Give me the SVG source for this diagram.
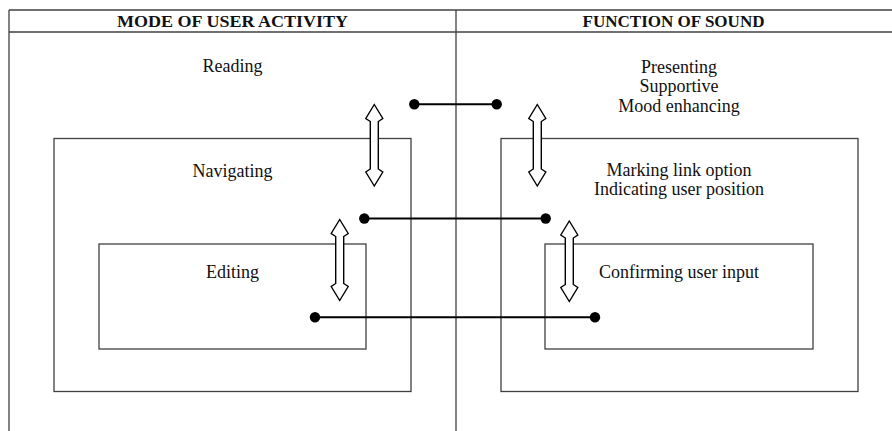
<svg xmlns="http://www.w3.org/2000/svg" width="892" height="431" viewBox="0 0 892 431">
  <defs>
    <style>
      .rule { stroke: #404040; stroke-width: 1.3; fill: none; }
      .box { stroke: #404040; stroke-width: 1.3; fill: none; }
      .label { font-family: "Liberation Serif", "Times New Roman", serif; font-size: 18px; fill: #111; text-anchor: middle; }
      .head { font-family: "Liberation Serif", "Times New Roman", serif; font-size: 17.5px; font-weight: bold; fill: #111; text-anchor: middle; }
      .link { stroke: #000; stroke-width: 2; }
      .dot { fill: #000; }
      .dbl { fill: #fff; stroke: #000; stroke-width: 1.4; stroke-linejoin: miter; }
    </style>
  </defs>
  <rect width="892" height="431" fill="#fff"/>

  <!-- table frame -->
  <g id="frame">
    <line class="rule" x1="9" y1="10" x2="892" y2="10"/>
    <line class="rule" x1="9" y1="32" x2="892" y2="32"/>
    <line class="rule" x1="9" y1="10" x2="9" y2="431"/>
    <line class="rule" x1="456" y1="10" x2="456" y2="431"/>
    <text class="head" x="232.5" y="27" textLength="231" lengthAdjust="spacingAndGlyphs">MODE OF USER ACTIVITY</text>
    <text class="head" x="673.5" y="27" textLength="182" lengthAdjust="spacingAndGlyphs">FUNCTION OF SOUND</text>
  </g>

  <!-- user activity modes -->
  <g id="reading">
    <text class="label" x="232.5" y="72">Reading</text>
  </g>
  <g id="navigating">
    <rect class="box" x="54" y="138.5" width="357" height="253"/>
    <text class="label" x="232.5" y="177">Navigating</text>
  </g>
  <g id="editing">
    <rect class="box" x="99" y="244" width="267" height="105"/>
    <text class="label" x="232.5" y="278">Editing</text>
  </g>

  <!-- sound functions -->
  <g id="presenting">
    <text class="label" x="679" y="72.5">Presenting</text>
    <text class="label" x="679" y="91.5">Supportive</text>
    <text class="label" x="679" y="111.5">Mood enhancing</text>
  </g>
  <g id="marking">
    <rect class="box" x="501" y="138.5" width="357" height="253"/>
    <text class="label" x="679" y="176">Marking link option</text>
    <text class="label" x="679" y="195">Indicating user position</text>
  </g>
  <g id="confirming">
    <rect class="box" x="545" y="244" width="268" height="105"/>
    <text class="label" x="679" y="278">Confirming user input</text>
  </g>

  <!-- connectors -->
  <g id="connectors">
    <!-- level transitions (double arrows) -->
    <polygon class="dbl" points="374.3,104.5 382.8,118.5 378.3,121.5 378.3,169 382.8,172 374.3,186 365.8,172 370.3,169 370.3,121.5 365.8,118.5"/>
    <polygon class="dbl" points="537.3,104.5 545.8,118.5 541.3,121.5 541.3,169 545.8,172 537.3,186 528.8,172 533.3,169 533.3,121.5 528.8,118.5"/>
    <polygon class="dbl" points="339.7,219.5 348.2,233.5 343.7,236.5 343.7,283.5 348.2,286.5 339.7,300.5 331.2,286.5 335.7,283.5 335.7,236.5 331.2,233.5"/>
    <polygon class="dbl" points="569.3,221 577.8,235 573.3,238 573.3,284.5 577.8,287.5 569.3,301.5 560.8,287.5 565.3,284.5 565.3,238 560.8,235"/>

    <!-- mode-to-function links -->
    <line class="link" x1="414.3" y1="104.3" x2="496.7" y2="104.3"/>
    <circle class="dot" cx="414.3" cy="104.3" r="5.2"/>
    <circle class="dot" cx="496.7" cy="104.3" r="5.2"/>

    <line class="link" x1="364.3" y1="218.5" x2="545.7" y2="218.5"/>
    <circle class="dot" cx="364.3" cy="218.5" r="5.2"/>
    <circle class="dot" cx="545.7" cy="218.5" r="5.2"/>

    <line class="link" x1="315" y1="317.3" x2="595" y2="317.3"/>
    <circle class="dot" cx="315" cy="317.3" r="5.2"/>
    <circle class="dot" cx="595" cy="317.3" r="5.2"/>
  </g>
</svg>
